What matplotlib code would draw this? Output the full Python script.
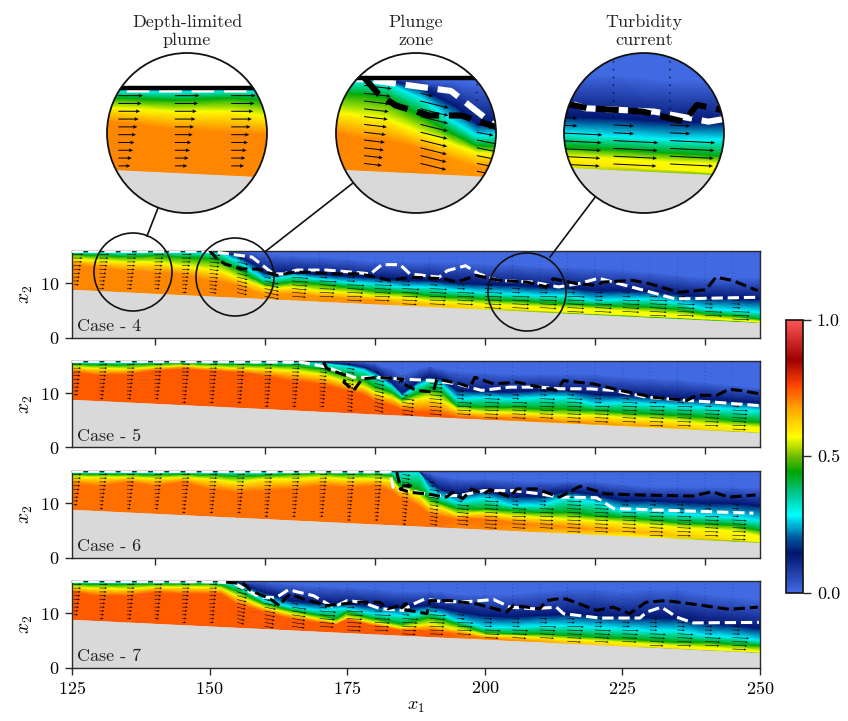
import numpy as np
import matplotlib
matplotlib.use("Agg")
import matplotlib.pyplot as plt
from matplotlib.colors import LinearSegmentedColormap, Normalize
from matplotlib.patches import Circle
from matplotlib.cm import ScalarMappable
from matplotlib.ticker import FixedLocator

plt.rcParams['font.family'] = ['cmr10', 'DejaVu Serif']
plt.rcParams['mathtext.fontset'] = 'cm'
plt.rcParams['axes.formatter.use_mathtext'] = True
plt.rcParams['axes.unicode_minus'] = False

W, H = 848, 721

bed_x = [125, 250]
bed_y = [8.85, 2.75]

# ---------- Case 4
x4 = [125,130,135,140,145,150,152,155,158,160,162,165,170,175,180,185,190,195,200,205,210,215,220,225,230,235,240,245,250]
o4 = [13.5,12.9,12.3,12.0,11.7,10.5,10.4,9.6,8.6,8.0,8.0,8.1,7.6,7.2,6.9,6.5,6.2,5.9,5.6,5.3,5.0,4.7,4.4,4.2,3.95,3.7,3.45,3.2,2.85]
y4 = [14.5,14.2,13.9,13.9,13.2,12.6,12.3,11.1,10.0,9.3,9.1,9.3,8.6,8.3,7.7,7.4,6.8,6.5,6.2,6.0,5.7,5.5,5.3,5.0,4.7,4.3,3.7,3.4,3.0]
g4 = [15.3,15.1,14.9,15.1,14.8,14.5,14.2,12.6,10.9,9.9,9.8,10.2,9.9,9.3,8.6,8.3,7.7,7.4,7.1,6.8,6.5,6.2,5.9,5.8,5.6,5.2,4.4,4.0,3.4]
c4 = [15.8,15.75,15.7,15.8,15.7,15.7,15.5,14.2,12.0,10.8,10.9,11.4,10.8,10.2,9.9,9.3,9.3,8.7,8.3,8.0,7.7,7.7,6.8,7.0,7.1,6.4,5.3,5.0,4.7]
n4 = [15.9,15.9,15.9,15.9,15.9,15.9,15.8,15.1,13.5,11.9,11.8,12.0,11.6,11.3,11.0,10.6,10.5,10.0,9.8,9.6,9.3,9.2,8.6,8.6,8.4,8.0,7.4,7.2,7.0]
b4 = [15.95,15.95,15.95,15.95,15.95,15.95,15.95,15.9,15.7,15.4,15.2,15.0,14.8,14.5,14.0,14.0,14.0,13.8,13.5,13.5,13.0,13.0,12.8,12.5,12.0,11.5,11.0,11.0,11.0]
vc4 = [.70,.70,.70,.70,.70,.70,.70,.70,.69,.69,.69,.69,.69,.69,.69,.66,.64,.62,.60,.60,.58,.57,.57,.57,.57,.57,.57,.57,.57]
vb4 = [.70,.70,.70,.70,.70,.70,.70,.70,.69,.69,.69,.69,.69,.69,.69,.66,.64,.62,.55,.52,.50,.48,.45,.44,.44,.44,.44,.44,.44]
wx4 = [150,151.3,152.8,155.8,158.6,162.2,165.2,167.7,173.1,177.4,182.8,186.5,192.5,194.9,198.5,202.7,207.6,211.2,212.4,216.7,220.3,221.5,226.9,229.9,235.3,240.2,242,245,249.6]
wy4 = [16,14.5,13.5,12.6,12.6,11.4,12,12,11.7,11.7,10.5,11.1,10.8,10.2,11.4,10.5,10.2,9.3,10.8,9.9,9.6,10.2,10.5,9.9,8.3,8.8,11.1,10.5,8.6]
lx4 = [125,150,155.5,157.7,161.6,163.4,165.8,171.3,176.2,179.2,181.3,184.6,186.4,191.7,193.2,196.5,198.9,202.5,208.6,213.4,217,220.7,225.5,230.3,234.6,249.7]
ly4 = [15.85,15.85,15.1,14.8,11.7,11.7,12.4,12.4,12.0,11.7,13.4,13.4,11.7,11.1,12.3,13.2,11.7,10.5,10.2,9.3,9.9,10.9,9.6,8.3,7.1,7.4]
uc4 = [1.8,1.8,1.8,1.8,1.8,2.0,2.0,2.6,3.0,3.2,3.2,3.2,3.2,3.2,3.2,3.2,3.2,3.2,3.2,3.2,3.2,3.2,3.2,3.2,3.2,3.2]
ub4 = [.8,.8,.8,.8,.8,1.2,1.8,2.6,2.4,2.4,2.6,2.6,2.6,2.8,2.8,3.0,3.0,3.0,3.0,3.0,3.0,3.0,3.0,3.0,3.0,3.0]
sl4 = [0,0,0,0,0,-.12,-.25,-.2,-.08,-.05,-.05,-.05,-.05,-.05,-.05,-.05,-.05,-.05,-.05,-.05,-.05,-.05,-.05,-.05,-.05,-.05]

# ---------- Case 5
x5 = [125,130,135,140,145,150,155,160,165,170,175,178,180,183,185,188,190,192,195,200,205,210,215,220,225,230,235,240,245,250]
o5 = [13.9,13.3,13.5,14.2,14.5,14.2,13.9,13.2,12.3,11.7,10.5,9.8,8.6,7.8,7.0,6.6,6.5,6.2,5.7,5.3,5.3,4.9,4.6,4.35,4.1,3.9,3.6,3.35,3.1,2.85]
y5 = [14.8,14.6,14.5,14.8,15.1,14.8,14.6,14.5,14.2,13.5,12.0,11.2,10.2,9.3,8.3,9.0,9.3,8.8,7.1,6.5,6.5,6.2,5.9,5.9,5.6,5.3,5.0,4.35,4.05,3.75]
g5 = [15.4,15.2,15.2,15.4,15.5,15.4,15.3,15.2,15.1,14.5,13.2,12.4,11.2,10.2,8.9,10.0,10.8,10.3,7.7,7.4,7.4,7.1,7.1,6.8,6.5,6.2,5.9,5.6,5.0,4.65]
c5 = [15.8,15.7,15.7,15.8,15.8,15.8,15.8,15.75,15.8,15.6,15.0,14.3,13.2,11.4,9.5,11.5,12.3,11.8,8.95,9.25,8.95,9.25,9.25,8.0,8.3,8.0,7.7,7.4,7.1,6.8]
n5 = [15.9,15.9,15.9,15.9,15.9,15.9,15.9,15.9,15.9,15.8,15.3,14.8,14.0,12.0,10.0,12.2,13.0,12.6,10.5,10.3,10.2,10.5,10.5,9.8,9.6,9.3,9.0,8.8,8.5,8.2]
b5 = [15.95,15.95,15.95,15.95,15.95,15.95,15.95,15.95,15.95,15.95,15.9,15.8,15.5,14.5,13.5,14.5,15.0,14.5,14.0,13.8,13.5,13.5,13.5,13.5,13.0,12.8,12.5,12.0,11.5,11.0]
vc5 = [.74,.74,.74,.74,.74,.74,.74,.74,.74,.74,.74,.74,.74,.74,.74,.74,.74,.74,.73,.73,.72,.72,.70,.70,.68,.68,.66,.62,.60,.57]
vb5 = [.74,.74,.74,.74,.74,.74,.74,.74,.74,.74,.74,.74,.74,.74,.74,.74,.74,.74,.73,.70,.68,.66,.62,.60,.58,.57,.55,.52,.50,.50]
wx5 = [170.7,171.3,174.9,174.4,176.2,177.7,180.4,185.2,184.6,187.6,190.6,191.3,195.5,197.3,198.2,201.6,205.8,210,213,214.3,219.7,224.6,230.6,236.7,238.5,242.2,244.3,246.4,249.8]
wy5 = [15.7,14.5,13.2,12,10.5,12.6,12.9,12.6,12,10.5,10.2,12.6,11.7,11.1,12.9,11.7,12,11.1,10.5,12.3,11.7,10.5,9.25,8.65,9.6,9.6,10.7,10.5,9.9]
lx5 = [125,166.5,171.3,176.2,180.4,184.6,190.6,194.9,199.4,204.6,210,213.6,219,223.4,229.4,236.7,242.2,249.8]
ly5 = [15.85,15.7,14.8,12.9,12.9,12.6,12.3,11.7,10.5,11.1,11.1,10.8,10.8,10.5,9.25,8.65,8.3,7.7]
uc5 = [1.5,1.5,1.5,1.5,1.5,1.5,1.5,1.5,1.5,1.5,1.4,1.8,2.3,2.4,2.8,2.8,2.8,2.8,2.8,2.8,2.8,2.8,2.8,2.8,2.8,2.8]
ub5 = [.7,.7,.7,.7,.7,.7,.7,.7,.7,.8,1.0,1.6,2.0,2.2,2.4,2.4,2.4,2.4,2.4,2.4,2.4,2.4,2.4,2.4,2.4,2.4]
sl5 = [0,0,0,0,0,0,0,0,-.03,-.1,-.2,-.25,-.15,-.1,-.06,-.05,-.05,-.05,-.05,-.05,-.05,-.05,-.05,-.05,-.05,-.05]

# ---------- Case 6
x6 = [125,130,135,140,145,150,155,160,165,170,175,180,183,184.5,186,188,190,192,195,200,205,210,215,220,225,230,235,240,245,250]
o6 = [13.55,13.2,13.9,13.2,13.9,12.6,12.0,12.3,12.6,13.2,12.9,13.2,12.3,11.1,10.6,9.5,8.0,7.6,7.1,7.1,6.5,6.0,5.6,5.2,4.9,4.5,4.0,3.6,3.3,2.9]
y6 = [14.8,14.8,14.8,14.6,14.8,14.5,13.9,14.5,14.5,14.8,14.5,14.5,14.2,12.7,12.4,11.3,9.6,9.2,8.0,8.3,7.7,7.4,7.1,6.8,6.5,6.0,5.6,5.3,5.0,4.0]
g6 = [15.4,15.3,15.3,15.2,15.3,15.2,15.0,15.1,15.4,15.5,15.3,15.4,15.1,13.2,13.0,12.6,10.8,10.0,9.0,8.9,8.65,8.3,8.3,7.7,7.4,7.0,6.5,6.2,6.0,5.0]
c6 = [15.8,15.75,15.75,15.75,15.8,15.7,15.7,15.7,15.8,15.85,15.8,15.8,15.7,15.6,15.8,15.8,12.6,11.2,10.2,11.0,9.6,9.6,11.0,10.2,8.6,8.6,8.0,7.7,7.4,6.8]
n6 = [15.9,15.9,15.9,15.9,15.9,15.9,15.9,15.9,15.9,15.9,15.9,15.9,15.9,15.9,15.95,15.95,14.0,12.5,11.8,12.2,11.3,11.3,12.2,11.6,10.5,10.5,10.2,10.0,10.0,9.5]
b6 = [15.95,15.95,15.95,15.95,15.95,15.95,15.95,15.95,15.95,15.95,15.95,15.95,15.95,15.95,15.98,15.98,15.5,15.0,14.5,14.5,14.2,14.0,14.0,14.0,13.5,13.0,13.0,13.0,13.0,12.8]
vc6 = [.72,.72,.72,.72,.72,.72,.72,.72,.72,.72,.72,.72,.72,.72,.72,.72,.72,.72,.72,.72,.71,.70,.70,.68,.66,.66,.64,.62,.60,.57]
vb6 = [.72,.72,.72,.72,.72,.72,.72,.72,.72,.72,.72,.72,.72,.72,.72,.72,.72,.72,.70,.70,.68,.66,.62,.60,.58,.57,.55,.52,.50,.50]
wx6 = [184,184.6,186.5,184.6,186.4,189.4,193,194.2,196,197.6,199.8,201,204.6,205.8,209.4,213.6,217.3,222,228,237.7,241.3,244.3,249.2]
wy6 = [15.7,13.2,13.2,12.6,12,11.7,11.1,12,10.8,12.6,11.7,12.5,11.1,12.6,12.6,11.1,13.1,11.7,11.5,11.3,12.1,11.1,11.5]
lx6 = [125,182.8,183.4,186.5,190.6,195.5,199.8,205.2,210,213.6,220.3,223.4,248.8]
ly6 = [15.85,15.75,12.6,12.3,11.4,11.4,12.3,12.3,11.7,11.1,11,9,8.15]
uc6 = [1.5,1.5,1.5,1.5,1.5,1.5,1.5,1.5,1.5,1.5,1.5,1.5,1.5,1.8,2.2,2.6,2.6,2.6,2.6,2.6,2.6,2.6,2.6,2.6,2.6,2.6]
ub6 = [.6,.6,.6,.6,.6,.6,.6,.6,.6,.6,.6,.6,.7,1.4,2.0,2.2,2.4,2.4,2.4,2.4,2.4,2.4,2.4,2.4,2.4,2.4]
sl6 = [0,0,0,0,0,0,0,0,0,0,0,0,-.18,-.18,-.1,-.06,-.05,-.05,-.05,-.05,-.05,-.05,-.05,-.05,-.05,-.05]

# ---------- Case 7
x7 = [125,130,135,140,145,150,152,155,160,165,170,173,175,180,185,190,192,195,200,205,210,215,220,225,230,235,240,245,250]
o7 = [13.9,13.2,13.2,13.9,13.55,13.55,13.6,11.7,10.2,8.95,8.3,8.0,8.95,7.7,6.8,6.8,6.5,6.2,5.4,5.0,4.8,4.35,4.15,3.95,3.8,3.55,3.3,3.05,2.85]
y7 = [14.8,14.6,14.5,14.8,14.8,14.8,14.6,13.2,11.1,9.9,8.95,8.4,9.25,8.3,7.4,8.0,7.6,7.1,6.0,5.9,5.6,5.3,5.0,4.65,4.35,4.05,3.75,3.45,3.1]
g7 = [15.4,15.3,15.3,15.4,15.4,15.4,15.2,14.1,11.7,10.5,9.6,9.0,10.2,8.95,8.0,9.25,8.9,8.0,6.5,6.2,6.2,5.9,5.6,5.3,5.0,4.65,4.65,4.35,4.05]
c7 = [15.8,15.75,15.75,15.8,15.8,15.8,15.7,15.3,12.3,11.1,10.5,10.8,10.8,9.9,9.6,10.2,9.8,8.65,7.4,7.4,7.7,7.7,7.4,7.1,6.8,6.8,5.9,5.6,5.0]
n7 = [15.9,15.9,15.9,15.9,15.9,15.9,15.9,15.7,13.8,12.2,11.8,11.8,11.8,11.3,11.0,11.4,11.0,10.3,9.5,9.3,9.6,9.8,9.6,9.3,9.2,9.0,8.2,7.8,7.2]
b7 = [15.95,15.95,15.95,15.95,15.95,15.95,15.95,15.9,15.7,15.3,15.0,14.8,14.8,14.5,14.0,14.0,14.0,13.5,13.5,13.5,14.0,14.5,14.5,14.0,14.5,14.5,13.5,13.0,12.5]
vc7 = [.74,.74,.74,.74,.74,.74,.74,.74,.74,.74,.74,.74,.74,.74,.74,.74,.74,.73,.72,.70,.68,.66,.64,.62,.60,.60,.58,.57,.57]
vb7 = [.74,.74,.74,.74,.74,.74,.74,.74,.74,.74,.74,.74,.74,.74,.74,.74,.74,.72,.68,.64,.60,.56,.52,.50,.48,.46,.46,.44,.44]
wx7 = [153,156.2,157.4,161,162.8,163.4,164.6,167,171.3,174.3,177.3,180.9,182.4,185.8,184.6,189.5,190,193.7,198.5,204,205.2,210,211.2,213,214.8,220.3,223.3,226.3,229.3,232.9,239,244.4,249.6]
wy7 = [15.7,15.4,14.2,12.6,11.3,12.3,13.5,12.6,11.4,11.7,12,12,10.8,11.7,10.8,9.9,12.3,12.3,11.7,10.2,11.4,10.8,12.3,12.6,12.6,10.5,11.1,9.9,12,12.3,11.5,10.7,11.1]
lx7 = [125,150,154.3,159.2,162.2,164.3,168.9,172.5,175,177.7,181,185.2,186.4,189.1,192.4,196.7,201.6,204.6,208.8,213,214.3,220.9,228.2,229.4,232.1,234.9,237.9,249.8]
ly7 = [15.85,15.75,15.6,12.9,12.9,14.3,13.2,11.1,12.3,12,10.8,10.5,11.4,12.6,12.1,12.1,12.5,11.1,10.8,11.1,9.9,9.1,9.1,10.2,11.1,9.25,8.2,8.3]
uc7 = [1.5,1.5,1.5,1.5,1.5,1.5,2.0,2.2,2.6,3.0,3.0,3.0,3.0,3.0,3.0,3.0,3.0,3.0,3.0,3.0,3.0,3.0,3.0,3.0,3.0,3.0]
ub7 = [.7,.7,.7,.7,.7,.7,1.2,1.6,2.2,2.4,2.4,2.4,2.4,2.4,2.4,2.4,2.4,2.4,2.4,2.4,2.4,2.4,2.4,2.4,2.4,2.4]
sl7 = [0,0,0,0,0,0,-.25,-.2,-.15,-.08,-.06,-.05,-.05,-.05,-.05,-.05,-.05,-.05,-.05,-.05,-.05,-.05,-.05,-.05,-.05,-.05]

arrow_x = [125.3,130,135,140,145,150,155,160,165,170,175,180,185,190,195,200,205,210,215,220,225,230,235,240,245,250]
arrow_y = [15.3,14.6,13.9,13.2,12.5,11.8,11.1,10.4,9.7,9.0,8.3,7.6,6.9,6.2,5.5,4.8,4.1,3.4]

level_vals = [0.57, 0.44, 0.28, 0.14, 0.0, 0.0]  # yellow, green, cyan, navy, royal, top

cases = [
    dict(name='Case - 4', x=x4, o=o4, y=y4, g=g4, c=c4, n=n4, b=b4, vc=vc4, vb=vb4, wx=wx4, wy=wy4, lx=lx4, ly=ly4, uc=uc4, ub=ub4, sl=sl4),
    dict(name='Case - 5', x=x5, o=o5, y=y5, g=g5, c=c5, n=n5, b=b5, vc=vc5, vb=vb5, wx=wx5, wy=wy5, lx=lx5, ly=ly5, uc=uc5, ub=ub5, sl=sl5),
    dict(name='Case - 6', x=x6, o=o6, y=y6, g=g6, c=c6, n=n6, b=b6, vc=vc6, vb=vb6, wx=wx6, wy=wy6, lx=lx6, ly=ly6, uc=uc6, ub=ub6, sl=sl6),
    dict(name='Case - 7', x=x7, o=o7, y=y7, g=g7, c=c7, n=n7, b=b7, vc=vc7, vb=vb7, wx=wx7, wy=wy7, lx=lx7, ly=ly7, uc=uc7, ub=ub7, sl=sl7),
]

cmap = LinearSegmentedColormap.from_list('plume', [
    (0.00, '#4169e1'), (0.143, '#00146e'), (0.20, '#0058a0'), (0.284, '#00ffff'),
    (0.36, '#00c896'), (0.443, '#00a500'), (0.50, '#70bc00'), (0.57, '#ffff00'),
    (0.675, '#ffa500'), (0.76, '#ff4500'), (0.855, '#a00000'), (1.00, '#ff5555')], N=256)
norm = Normalize(0, 1)
GREY = '#d9d9d9'


def draw_case(ax, cs, lw, aw, ascale, clip=None):
    X = np.asarray(cs['x'], float)
    bed = np.interp(X, bed_x, bed_y)
    rows = [bed, cs['o'], cs['y'], cs['g'], cs['c'], cs['n'], cs['b'], np.full(len(X), 16.0)]
    Y = np.vstack(rows)
    XX = np.tile(X, (len(rows), 1))
    V = np.vstack([cs['vb'], cs['vc']] + [np.full(len(X), v) for v in level_vals])
    arts = [ax.pcolormesh(XX, Y, V, shading='gouraud', cmap=cmap, norm=norm, zorder=1)]
    arts.append(ax.fill_between(bed_x, bed_y, [-20, -20], color=GREY, lw=0, zorder=1.5))
    # velocity arrows
    qx, qy, qu, qv = [], [], [], []
    for ax0, uc, ub, sl in zip(arrow_x, cs['uc'], cs['ub'], cs['sl']):
        b0 = np.interp(ax0, bed_x, bed_y)
        ctop = np.interp(ax0, cs['x'], cs['c'])
        ntop = np.interp(ax0, cs['x'], cs['n'])
        for yy in arrow_y:
            if yy < b0 + 0.25:
                continue
            if yy <= ctop:
                f = (yy - b0) / max(ctop - b0, 0.1)
                u = ub + (uc - ub) * f
                v = u * sl
            elif yy <= ntop:
                u = 0.45 * uc
                v = u * sl
            else:
                u, v = 0.0, 0.14
            qx.append(ax0); qy.append(yy); qu.append(u); qv.append(v)
    arts.append(ax.quiver(qx, qy, qu, qv, angles='xy', scale_units='xy', scale=ascale,
                          units='dots', width=aw, headwidth=3.8, headlength=4.2,
                          headaxislength=3.8, color='k', zorder=2))
    arts += ax.plot(cs['lx'], cs['ly'], color='white', lw=lw, ls='--', dash_capstyle='butt', zorder=3)
    arts += ax.plot(cs['wx'], cs['wy'], color='black', lw=lw, ls='--', dash_capstyle='butt', zorder=4)
    if clip is not None:
        for a in arts:
            a.set_clip_path(clip)
    return arts


fig = plt.figure(figsize=(W / 100, H / 100), dpi=100)
px = lambda l, t, r, b: [l / W, 1 - b / H, (r - l) / W, (b - t) / H]

panel_tops = [250.5, 360.5, 470.5, 580.5]
PANEL_H = 87
L, R = 72, 760
SP = '#2a2a2a'
FS = 13

for i, (cs, t) in enumerate(zip(cases, panel_tops)):
    ax = fig.add_axes(px(L, t, R, t + PANEL_H), zorder=1)
    ax.set_facecolor(GREY)
    draw_case(ax, cs, 2.2, 0.55, 1.0)
    ax.set_xlim(125, 250)
    ax.set_ylim(0, 16)
    ax.yaxis.set_major_locator(FixedLocator([0, 10]))
    if i == 3:
        ax.xaxis.set_major_locator(FixedLocator([125, 150, 175, 200, 225, 250]))
        ax.set_xlabel(r'$x_1$', fontsize=13, labelpad=2)
    else:
        ax.xaxis.set_major_locator(FixedLocator([140, 160, 180, 200, 220, 240]))
        ax.set_xticklabels([])
    ax.tick_params(length=5, width=1.0, labelsize=FS, color=SP, pad=4)
    ax.set_ylabel(r'$x_2$', fontsize=14, labelpad=4)
    for s in ax.spines.values():
        s.set_linewidth(1.0)
        s.set_color(SP)
    ax.text(0.0075, 0.035, cs['name'], transform=ax.transAxes, fontsize=FS, ha='left', va='bottom', color='#222222', zorder=6)

# colour bar
cax = fig.add_axes(px(786, 320, 803, 592.5), zorder=1)
cb = fig.colorbar(ScalarMappable(norm=norm, cmap=cmap), cax=cax, ticks=[0, 0.5, 1])
cb.set_ticklabels(['0.0', '0.5', '1.0'])
cb.ax.tick_params(length=6, width=1.0, labelsize=FS, pad=4, color=SP)
cb.outline.set_linewidth(1.2)
cb.outline.set_edgecolor('#111111')

# overlay: locator circles, leaders and titles, in pixel coordinates
ov = fig.add_axes([0, 0, 1, 1], zorder=3)
ov.set_xlim(0, W)
ov.set_ylim(H, 0)
ov.axis('off')
ov.patch.set_alpha(0)
for (cx, cy) in [(133, 272), (235, 277), (527, 292)]:
    ov.add_patch(Circle((cx, cy), 39, fill=False, ec='#111111', lw=1.2))
for (x0, y0, x1, y1) in [(158, 208, 147, 236), (353, 183, 266, 251), (596, 196, 550, 257)]:
    ov.plot([x0, x1], [y0, y1], color='#111111', lw=1.2)
titles = [('Depth-limited\nplume', 187), ('Plunge\nzone', 416), ('Turbidity\ncurrent', 644)]
for txt, cx in titles:
    ov.text(cx, 31, txt, ha='center', va='center', fontsize=FS, linespacing=1.2, color='#222222')

# magnified insets
MAG = 2.05
PX_X = (R - L) / 125
PX_Y = PANEL_H / 16
RAD = 80
windows = [(187, 133, 136.08, 11.95), (416, 133, 154.6, 11.03), (644, 133, 207.7, 8.28)]
for (cx, cy, xc, yc) in windows:
    ia = fig.add_axes(px(cx - RAD, cy - RAD, cx + RAD, cy + RAD), zorder=4)
    ia.set_axis_off()
    hx = RAD / (MAG * PX_X)
    hy = RAD / (MAG * PX_Y)
    disc = Circle((0.5, 0.5), 0.5, transform=ia.transAxes, fc='white', ec='none', zorder=0)
    ia.add_patch(disc)
    draw_case(ia, cases[0], 4.4, 1.0, 0.8, clip=disc)
    top = ia.axhline(16, color='black', lw=3.2, zorder=5)
    top.set_clip_path(disc)
    ia.set_xlim(xc - hx, xc + hx)
    ia.set_ylim(yc - hy, yc + hy)
    ia.add_patch(Circle((0.5, 0.5), 0.5, transform=ia.transAxes, fill=False, ec='#111111', lw=1.3, zorder=7, clip_on=False))

fig.savefig('out.png', dpi=100)
